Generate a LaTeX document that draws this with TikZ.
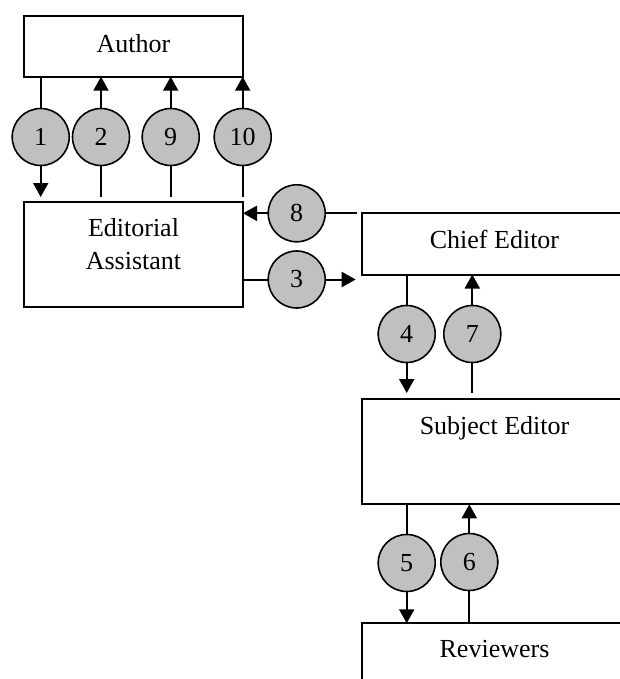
\documentclass[tikz,border=0pt]{standalone}
\usepackage{fontspec}
\setmainfont{Liberation Serif}
\usetikzlibrary{arrows.meta,backgrounds}
\definecolor{DiscGray}{RGB}{192,192,192}
\tikzset{
  box/.style={draw,line width=2pt,anchor=north west,inner sep=0pt,outer sep=0pt,minimum width=265.6pt},
  boxtext/.style={anchor=north,yshift=-17pt,inner sep=0pt,align=center,font=\fontsize{26}{33}\selectfont},
  disc/.style={circle,draw,line width=1.6pt,fill=DiscGray,minimum size=57pt,inner sep=0pt,font=\fontsize{26}{33}\selectfont},
  flow/.style={line width=2pt,-{Triangle[length=14pt,width=15pt]}}
}

\begin{document}
\begin{tikzpicture}[x=1pt,y=-1pt]
  \path[use as bounding box,clip] (0,0) rectangle (620,679);
  % boxes
  \node[box,minimum width=219pt,minimum height=61pt,label={[boxtext,yshift=-2pt]north:Author}] (author) at (24,15.7) {};
  \node[box,minimum width=219pt,minimum height=105.5pt,label={[boxtext]north:{Editorial\\Assistant}}] (assistant) at (24,201.5) {};
  \node[box,minimum height=61.2pt,label={[boxtext]north:Chief Editor}] (chief) at (361.7,213.3) {};
  \node[box,minimum height=105.3pt,label={[boxtext]north:Subject Editor}] (subject) at (361.7,399) {};
  \node[box,minimum height=80pt,label={[boxtext]north:Reviewers}] (reviewers) at (361.7,623.3) {};
  % numbered steps
  \node[disc] (d1) at (40.7,137) {1};
  \node[disc] (d2) at (101,137) {2};
  \node[disc] (d9) at (170.7,137) {9};
  \node[disc] (d10) at (242.7,137) {10};
  \node[disc] (d8) at (296.7,213.3) {8};
  \node[disc] (d3) at (296.7,279.5) {3};
  \node[disc] (d4) at (406.7,334) {4};
  \node[disc] (d7) at (472.3,334) {7};
  \node[disc] (d5) at (406.7,563) {5};
  \node[disc] (d6) at (469.3,562) {6};
  % flows
  \begin{scope}[on background layer]
    \draw[flow,shorten >=4.5pt] (author.south -| d1) -- (assistant.north -| d1);
    \draw[flow,shorten <=4.5pt] (assistant.north -| d2) -- (author.south -| d2);
    \draw[flow,shorten <=4.5pt] (assistant.north -| d9) -- (author.south -| d9);
    \draw[flow,shorten <=4.5pt] (assistant.north -| d10) -- (author.south -| d10);
    \draw[flow,shorten >=6pt] (assistant.east |- d3) -- (chief.west |- d3);
    \draw[flow,shorten <=5pt] (chief.west |- d8) -- (assistant.east |- d8);
    \draw[flow,shorten >=6pt] (chief.south -| d4) -- (subject.north -| d4);
    \draw[flow,shorten <=6pt] (subject.north -| d7) -- (chief.south -| d7);
    \draw[flow] (subject.south -| d5) -- (reviewers.north -| d5);
    \draw[flow] (reviewers.north -| d6) -- (subject.south -| d6);
  \end{scope}
\end{tikzpicture}
\end{document}
